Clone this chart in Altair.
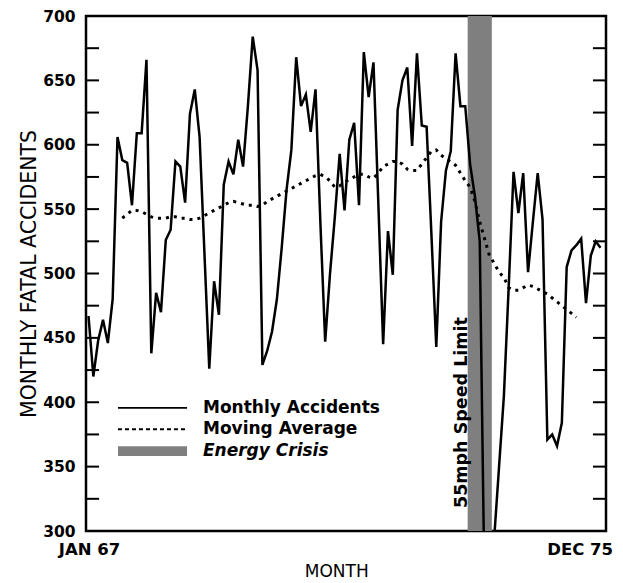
import altair as alt
import pandas as pd

# ---------------- data ----------------
# monthly fatal accidents, month index 0 = JAN 67
accidents = [467, 420, 448, 464, 446, 480, 606, 588, 586, 553, 609, 609,
             666, 438, 485, 470, 526, 534, 587, 583, 555, 624, 643, 606,
             516, 426, 494, 468, 569, 587, 577, 604, 583, 630, 684, 658,
             429, 440, 455, 480, 520, 565, 596, 668, 630, 639, 610, 643,
             540, 447, 500, 544, 593, 549, 604, 617, 553, 672, 637, 664,
             555, 445, 533, 499, 627, 650, 660, 599, 671, 615, 614, 530,
             443, 540, 580, 595, 671, 630, 630, 585, 560, 525, 250, 230,
             295, 350, 405, 490, 579, 547, 578, 501, 540, 578, 542, 371,
             375, 366, 384, 505, 518, 522, 527, 477, 514, 525, 520]

ma_start = 7
moving_avg = [543, 546, 549, 549, 548, 546, 544, 543, 543, 543, 544, 544,
              543, 543, 542, 542, 543, 545, 547, 549, 551, 553, 555, 556,
              555, 554, 553, 553, 552, 553, 556, 558, 560, 562, 564, 566,
              568, 570, 572, 574, 576, 577, 575, 572, 567, 568, 571, 573,
              575, 577, 577, 575, 574, 578, 583, 585, 587, 587, 585, 581,
              580, 580, 585, 590, 595, 596, 592, 589, 587, 584, 578, 572,
              567, 556, 540, 527, 514, 508, 501, 497, 489, 487, 487, 489,
              491, 490, 488, 486, 484, 481, 478, 475, 472, 469, 466]

crisis_start, crisis_end = 78.5, 83.5
tick_values = list(range(325, 700, 25))
y_labels = list(range(300, 701, 50))
legend_labels = ["Monthly Accidents", "Moving Average", "Energy Crisis"]
legend_y = [395.6, 379.0, 362.0]
x_labels = ["JAN 67", "DEC 75"]

W, H = 520, 515
X_MIN, X_MAX = -0.52, 107.14
FONT = "DejaVu Sans"

xs = alt.Scale(domain=[X_MIN, X_MAX], nice=False, zero=False)
ys = alt.Scale(domain=[300, 700], nice=False, zero=False)

acc_df = pd.DataFrame({"i": list(range(len(accidents))), "v": accidents})
ma_df = pd.DataFrame({"i": list(range(ma_start, ma_start + len(moving_avg))), "v": moving_avg})
band_df = pd.DataFrame({"i": [crisis_start], "i2": [crisis_end], "v": [700], "v2": [300]})

tick_len = 2.7
ticks_df = pd.DataFrame(
    [{"i": X_MIN, "i2": X_MIN + tick_len, "v": t} for t in tick_values] +
    [{"i": X_MAX - tick_len, "i2": X_MAX, "v": t} for t in tick_values])

yaxis = alt.Axis(values=y_labels, ticks=False, domain=False, grid=False,
                 labelFont=FONT, labelFontWeight="bold", labelFontSize=15.5,
                 labelColor="black", labelPadding=11,
                 title="MONTHLY FATAL ACCIDENTS", titleFont=FONT,
                 titleFontSize=20.5, titleFontWeight="normal", titleColor="black",
                 titlePadding=3)


def X(f="i"):
    return alt.X(f"{f}:Q", scale=xs, axis=None, title=None)


def Y(f="v"):
    return alt.Y(f"{f}:Q", scale=ys, axis=yaxis)


band = alt.Chart(band_df).mark_rect(color="#7f7f7f").encode(
    x=X(), x2="i2:Q", y=Y(), y2="v2:Q")

acc_line = alt.Chart(acc_df).mark_line(color="black", strokeWidth=2.5, clip=True,
                                       strokeJoin="miter").encode(x=X(), y=Y())

ma_line = alt.Chart(ma_df).mark_line(color="black", strokeWidth=3, strokeDash=[3, 5],
                                     clip=True).encode(x=X(), y=Y())

ticks = alt.Chart(ticks_df).mark_rule(color="black", strokeWidth=2).encode(
    x=X(), x2="i2:Q", y=Y())

# legend drawn in data coordinates
leg_df = pd.DataFrame({"i": [6.1] * 3, "i2": [20.4] * 3, "v": legend_y,
                       "label": legend_labels, "ti": [23.7] * 3})
leg_solid = alt.Chart(leg_df.iloc[[0]]).mark_rule(color="black", strokeWidth=1.6).encode(
    x=X(), x2="i2:Q", y=Y())
leg_dash = alt.Chart(leg_df.iloc[[1]]).mark_rule(color="black", strokeWidth=2,
                                                  strokeDash=[4, 3]).encode(
    x=X(), x2="i2:Q", y=Y())
sw_df = pd.DataFrame({"i": [6.1], "i2": [20.4], "v": [legend_y[2] + 3.8],
                      "v2": [legend_y[2] - 3.8]})
leg_swatch = alt.Chart(sw_df).mark_rect(color="#7f7f7f").encode(
    x=X(), x2="i2:Q", y=Y(), y2="v2:Q")
leg_text = alt.Chart(leg_df.iloc[[0, 1]]).mark_text(
    align="left", baseline="middle", font=FONT, fontSize=17, fontWeight="bold",
    color="black").encode(x=X("ti"), y=Y(), text="label:N")
leg_text_it = alt.Chart(leg_df.iloc[[2]]).mark_text(
    align="left", baseline="middle", font=FONT, fontSize=17, fontWeight="bold",
    fontStyle="italic", color="black").encode(x=X("ti"), y=Y(), text="label:N")

speed_df = pd.DataFrame({"i": [77.4], "v": [392.0], "t": ["55mph Speed Limit"]})
speed_text = alt.Chart(speed_df).mark_text(
    angle=270, align="center", baseline="middle", font=FONT, fontSize=17.5,
    fontWeight="bold", color="black").encode(x=X(), y=Y(), text="t:N")

xl_df = pd.DataFrame({"i": [0.2], "t": [x_labels[0]]})
x_text = alt.Chart(xl_df).mark_text(
    align="center", baseline="middle", font=FONT, fontSize=16.5, fontWeight="bold",
    color="black").encode(x=X(), y=alt.value(H + 19), text="t:N")
xr_df = pd.DataFrame({"i": [108.6], "t": [x_labels[1]]})
x_text_r = alt.Chart(xr_df).mark_text(
    align="right", baseline="middle", font=FONT, fontSize=16.5, fontWeight="bold",
    color="black").encode(x=X(), y=alt.value(H + 19), text="t:N")

mt_df = pd.DataFrame({"i": [51.4], "t": ["MONTH"]})
month_text = alt.Chart(mt_df).mark_text(
    align="center", baseline="middle", font=FONT, fontSize=17,
    color="black").encode(x=X(), y=alt.value(H + 41), text="t:N")

chart = alt.layer(
    band, acc_line, ma_line, ticks, leg_solid, leg_dash, leg_swatch,
    leg_text, leg_text_it, speed_text, x_text, x_text_r, month_text
).properties(
    width=W, height=H,
    autosize=alt.AutoSizeParams(type="none"),
    padding={"left": 78, "top": 8, "right": 9, "bottom": 52},
).configure_view(
    stroke="black", strokeWidth=2.5
)

chart.save("out.html", embed_options={"renderer": "svg", "actions": False})
